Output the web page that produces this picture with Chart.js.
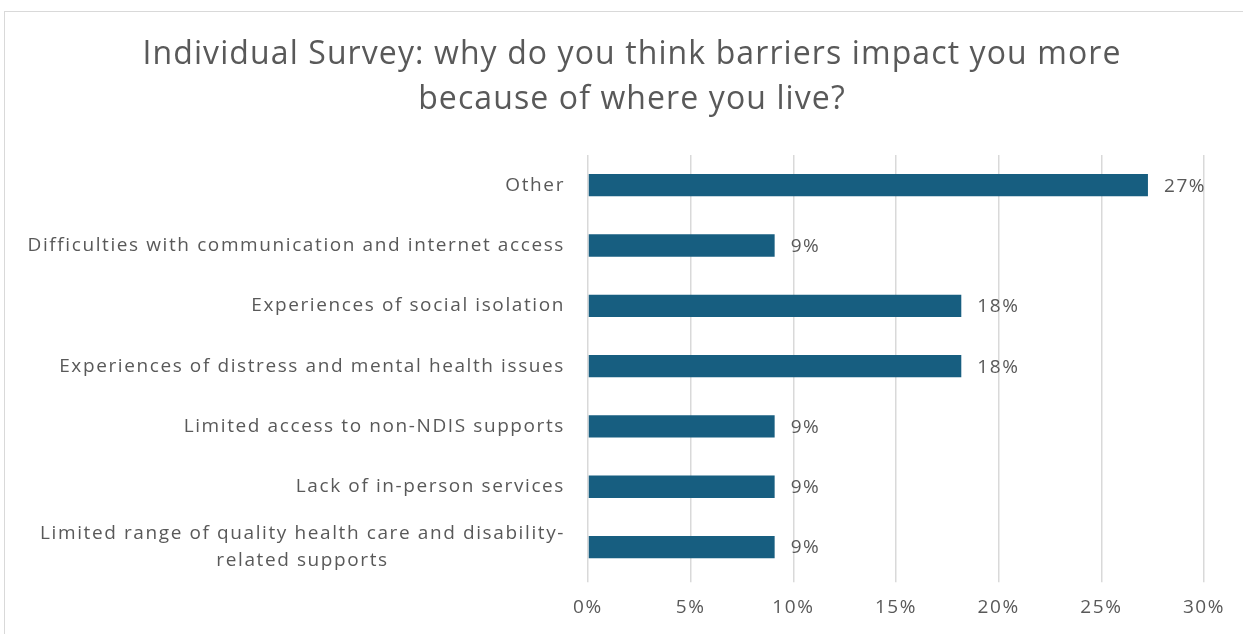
<!DOCTYPE html>
<html>
<head>
<meta charset="utf-8">
<script src="https://cdn.jsdelivr.net/npm/chart.js@4.4.1/dist/chart.umd.min.js"></script>
<style>
  html, body { margin: 0; padding: 0; background: #fff; }
  #wrap { position: relative; width: 1243px; height: 634px; overflow: hidden; }
  #frame { position: absolute; left: 4px; top: 11px; width: 1300px; height: 700px; border: 1px solid #d9d9d9; box-sizing: border-box; pointer-events: none; }
</style>
</head>
<body>
<div id="wrap">
  <canvas id="grafico" width="1243" height="634"></canvas>
  <div id="frame"></div>
</div>
<script>
document.addEventListener('DOMContentLoaded', () => {

	// DATOS

	const titulo = [
	  'Individual Survey: why do you think barriers impact you more',
	  'because of where you live?',
	];
	const categorias = [
	  'Other',
	  'Difficulties with communication and internet access',
	  'Experiences of social isolation',
	  'Experiences of distress and mental health issues',
	  'Limited access to non-NDIS supports',
	  'Lack of in-person services',
	  ['Limited range of quality health care and disability-', 'related supports'],
	];
	const valores = [27.27, 9.09, 18.18, 18.18, 9.09, 9.09, 9.09];
	const ticksX = ['0%', '5%', '10%', '15%', '20%', '25%', '30%'];

	const gris = '#595959';
	const fuente = 'Open Sans';

	// titulo dibujado a mano (para poder espaciar letras)
	const tituloPlugin = {
	  id: 'tituloPlugin',
	  beforeDraw(chart) {
	    chart.ctx.letterSpacing = '1.6px';   // ticks del eje X
	  },
	  afterDraw(chart) {
	    const ctx = chart.ctx;
	    ctx.save();
	    ctx.letterSpacing = '1.1px';
	    ctx.font = '32px "' + fuente + '"';
	    ctx.fillStyle = gris;
	    ctx.textAlign = 'center';
	    ctx.textBaseline = 'middle';
	    ctx.fillText(titulo[0], 632, 55);
	    ctx.fillText(titulo[1], 632, 100);
	    ctx.restore();
	    ctx.letterSpacing = '0px';
	  }
	};

	// etiquetas del eje Y (centradas si tienen dos lineas, como Excel)
	const etiquetasY = {
	  id: 'etiquetasY',
	  afterDraw(chart) {
	    const ctx = chart.ctx;
	    const y = chart.scales.y;
	    ctx.save();
	    ctx.letterSpacing = '1.6px';
	    ctx.font = '19px "' + fuente + '"';
	    ctx.fillStyle = gris;
	    ctx.textAlign = 'center';
	    ctx.textBaseline = 'middle';
	    const derecha = chart.chartArea.left - 23;
	    categorias.forEach((cat, i) => {
	      const lineas = Array.isArray(cat) ? cat : [cat];
	      const ancho = Math.max(...lineas.map(l => ctx.measureText(l).width));
	      const cy = y.getPixelForTick(i);
	      lineas.forEach((l, j) => {
	        ctx.fillText(l, derecha - ancho / 2, cy + (j - (lineas.length - 1) / 2) * 27);
	      });
	    });
	    ctx.restore();
	  }
	};

	// etiquetas de datos
	const etiquetasDatos = {
	  id: 'etiquetasDatos',
	  afterDatasetsDraw(chart) {
	    const ctx = chart.ctx;
	    const meta = chart.getDatasetMeta(0);
	    ctx.save();
	    ctx.letterSpacing = '1.6px';
	    ctx.font = '19px "' + fuente + '"';
	    ctx.fillStyle = gris;
	    ctx.textAlign = 'left';
	    ctx.textBaseline = 'middle';
	    meta.data.forEach((bar, i) => {
	      ctx.fillText(Math.round(valores[i]) + '%', bar.x + 16, bar.y + 1);
	    });
	    ctx.restore();
	  }
	};

	const data = {
	  labels: categorias,
	  datasets: [{
	    label: 'Individual Survey',
	    data: valores,
	    backgroundColor: '#175e80',
	    borderWidth: 0,
	    categoryPercentage: 1,
	    barPercentage: 0.37,
	  }]
	};

	const config = {
	  type: 'bar',
	  data: data,
	  options: {
	    indexAxis: 'y',
	    responsive: false,
	    animation: false,
	    layout: { padding: { left: 21, right: 39, top: 155, bottom: 1 } },
	    plugins: {
	      legend: { display: false },
	      tooltip: { enabled: false },
	      title: { display: false },
	    },
	    scales: {
	      x: {
	        min: 0,
	        max: 30,
	        ticks: {
	          stepSize: 5,
	          color: gris,
	          font: { family: fuente, size: 19 },
	          padding: 14,
	          callback: (v, i) => ticksX[i],
	        },
	        grid: { color: '#d9d9d9', lineWidth: 1.5, tickLength: 5 },
	        border: { display: false },
	      },
	      y: {
	        ticks: { color: 'transparent', font: { family: fuente, size: 17 } },
	        grid: { display: false },
	        border: { display: false },
	        afterFit: (scale) => { scale.width = 588 - 21; },
	      },
	    },
	  },
	  plugins: [tituloPlugin, etiquetasY, etiquetasDatos],
	};

	var grafico = new Chart(document.getElementById('grafico'), config);

});
</script>
</body>
</html>
